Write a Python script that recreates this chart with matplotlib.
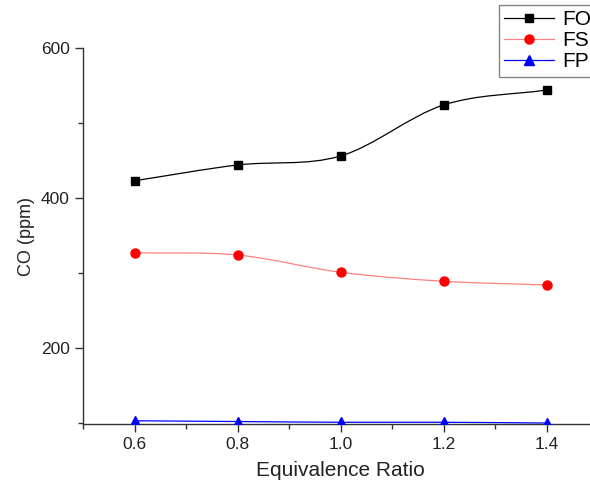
import numpy as np
import matplotlib.pyplot as plt
from matplotlib.path import Path
from matplotlib.patches import PathPatch
from matplotlib.ticker import MultipleLocator

plt.rcParams['font.family'] = ['Liberation Sans', 'DejaVu Sans']

# data
phi = [0.6, 0.8, 1.0, 1.2, 1.4]
fo = [423, 444, 456, 524, 544]
fs = [327, 324, 301, 289, 284]
fp = [103, 102, 101, 101, 100]


def smooth_path(x, y):
    # catmull-rom -> bezier, gives origin-like spline connection
    x = np.asarray(x, float)
    y = np.asarray(y, float)
    px = np.concatenate([[2 * x[0] - x[1]], x, [2 * x[-1] - x[-2]]])
    py = np.concatenate([[2 * y[0] - y[1]], y, [2 * y[-1] - y[-2]]])
    verts = [(x[0], y[0])]
    codes = [Path.MOVETO]
    for i in range(1, len(px) - 2):
        c1 = (px[i] + (px[i + 1] - px[i - 1]) / 6, py[i] + (py[i + 1] - py[i - 1]) / 6)
        c2 = (px[i + 1] - (px[i + 2] - px[i]) / 6, py[i + 1] - (py[i + 2] - py[i]) / 6)
        verts += [c1, c2, (px[i + 1], py[i + 1])]
        codes += [Path.CURVE4] * 3
    return Path(verts, codes)


fig = plt.figure(figsize=(5.9, 4.8), dpi=100)
ax = fig.add_axes([83 / 590, 56 / 480, 515 / 590, 376 / 480])

series = [
    ('FO', fo, 'black', 'black', 's', 6),
    ('FS', fs, '#ff8080', 'red', 'o', 6.5),
    ('FP', fp, 'blue', 'blue', '^', 7.5),
]
handles = []
for name, vals, lc, mc, mk, ms in series:
    ax.add_patch(PathPatch(smooth_path(phi, vals), fill=False, edgecolor=lc, lw=0.9))
    ax.plot(phi, vals, linestyle='none', marker=mk, ms=ms, color=mc, zorder=3)
    h, = ax.plot([], [], color=lc, lw=0.9, marker=mk, ms=ms, mfc=mc, mec=mc, label=name)
    handles.append(h)

ax.set_xlim(0.5, 1.5)
ax.set_ylim(98.7, 600)
ax.xaxis.set_major_locator(MultipleLocator(0.2))
ax.xaxis.set_minor_locator(MultipleLocator(0.1))
ax.yaxis.set_major_locator(MultipleLocator(200))
ax.yaxis.set_minor_locator(MultipleLocator(100))
ax.set_xticks([0.6, 0.8, 1.0, 1.2, 1.4])
ax.set_xticklabels(['0.6', '0.8', '1.0', '1.2', '1.4'])

for s in ['top', 'right']:
    ax.spines[s].set_visible(False)
for s in ['left', 'bottom']:
    ax.spines[s].set_color('#333333')
    ax.spines[s].set_linewidth(1.0)
ax.tick_params(which='major', direction='out', length=6, width=1, colors='#333333',
               labelsize=12.5, labelcolor='#222222')
ax.tick_params(which='minor', direction='out', length=3.5, width=1, colors='#333333')

ax.set_xlabel('Equivalence Ratio', fontsize=15, labelpad=6, color='#222222')
ax.set_ylabel('CO (ppm)', fontsize=13, labelpad=4, color='#222222')

fig.legend(handles=handles, loc='upper left', bbox_to_anchor=(499 / 590, 1 - 5 / 480),
           fontsize=15, frameon=True, fancybox=False, edgecolor='#666666',
           handlelength=2.4, handletextpad=0.4, borderpad=0.25, labelspacing=0.1,
           borderaxespad=0)

fig.savefig('out.png', dpi=100)
